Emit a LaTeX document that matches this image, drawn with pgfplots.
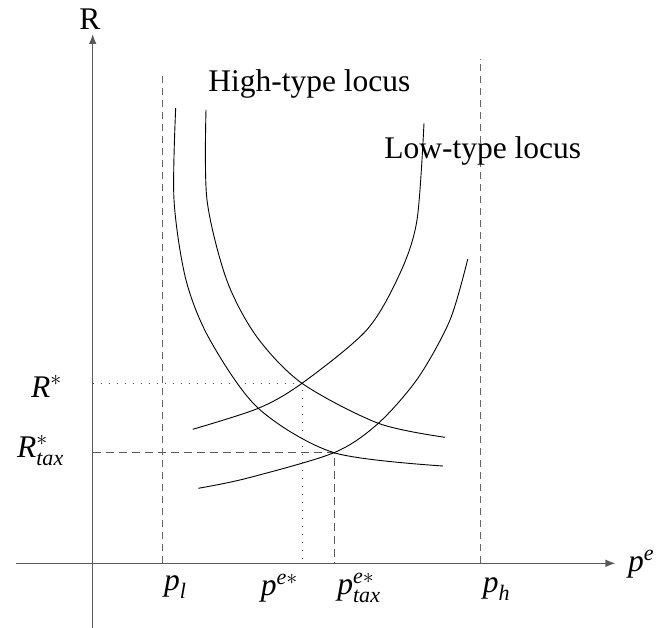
\documentclass[border=0pt]{standalone}
\usepackage{amsmath}
\usepackage{fontspec}
\setmainfont{Liberation Serif}
\usepackage{pgfplots}
\pgfplotsset{compat=1.18}
\usetikzlibrary{arrows.meta}
\newcommand\vi[1]{\text{\itshape #1}}

\begin{document}
\begin{tikzpicture}[font=\fontsize{15.75}{19}\selectfont]
\begin{axis}[
  x=0.5pt, y=0.5pt,
  xmin=-76.7, xmax=522.8, ymin=-64.7, ymax=529.3,
  axis lines=middle,
  axis line style={black!65, line width=0.6pt, -{Latex[length=5pt,width=3.8pt]}},
  xtick=\empty, ytick=\empty,
  enlargelimits=false,
  clip=false,
  every axis plot/.append style={line width=0.45pt, mark=none},
]
% bounds p_l and p_h
\addplot[black!60, dash pattern=on 3.5pt off 2.5pt] coordinates {(69.3,0) (69.3,489.3)};
\addplot[black!60, dash pattern=on 3.5pt off 2.5pt] coordinates {(387.3,0) (387.3,504.3)};
% equilibrium without tax
\addplot[black!75, dash pattern=on 0.5pt off 3.5pt] coordinates {(0,180) (209.3,180) (209.3,0)};
% equilibrium with tax
\addplot[black!65, dash pattern=on 4pt off 2.5pt] coordinates {(0,110.6) (241.3,110.6) (241.3,0)};
% high-type loci
\addplot[black, smooth] coordinates {
  (83,455.3) (81.3,363.3) (93.3,283.3) (117.3,223.3) (165.6,155)
  (241.3,110.6) (350.3,97.3)};
\addplot[black, smooth] coordinates {
  (113.3,453.3) (114.3,363.3) (134,283.3) (164,226.6) (209.3,180)
  (285.6,140) (352.3,126)};
% low-type loci
\addplot[black, smooth] coordinates {
  (100,134) (165.6,155) (209.3,180) (274,233.3) (307.3,290)
  (324.3,343.3) (331.3,440)};
\addplot[black, smooth] coordinates {
  (105.6,75) (154,85) (241.3,110.6) (285.6,140) (325.3,185.3)
  (357.3,243.3) (375,304)};
% labels
\node[anchor=base, inner sep=0] at (axis cs:-2.7,533.3) {R};
\node[anchor=base west, inner sep=0] at (axis cs:535,-8) {$\vi{p}^{\vi{e}}$};
\node[anchor=base, inner sep=0] at (axis cs:82.8,-27.5) {$\vi{p}_{\vi{l}}$};
\node[anchor=base, inner sep=0] at (axis cs:187,-32) {$\vi{p}^{\vi{e}\ast}$};
\node[anchor=base, inner sep=0] at (axis cs:266.5,-31) {$\vi{p}^{\vi{e}\ast}_{\vi{tax}}$};
\node[anchor=base, inner sep=0] at (axis cs:404,-29) {$\vi{p}_{\vi{h}}$};
\node[anchor=base, inner sep=0] at (axis cs:-46,166) {$\vi{R}^{\ast}$};
\node[anchor=base, inner sep=0] at (axis cs:-52,105.3) {$\vi{R}^{\ast}_{\vi{tax}}$};
\node[anchor=base west, inner sep=0] at (axis cs:115.3,471.6) {High-type locus};
\node[anchor=base west, inner sep=0] at (axis cs:291.3,405) {Low-type locus};
\coordinate (bl) at (axis cs:-92.7,-64.7);
\coordinate (tr) at (axis cs:568.3,563.3);
\end{axis}
\pgfresetboundingbox
\path[use as bounding box] (bl) rectangle (tr);
\end{tikzpicture}
\end{document}
